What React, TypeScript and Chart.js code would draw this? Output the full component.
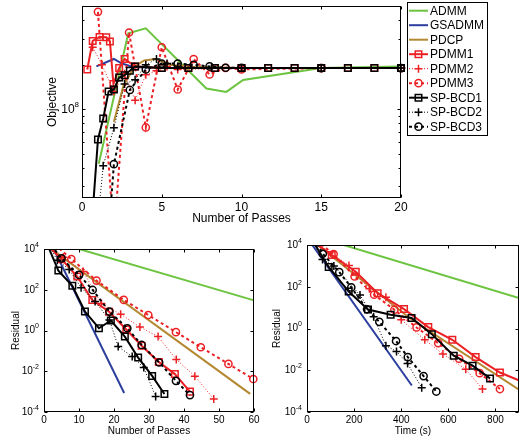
import React, { useEffect, useRef } from 'react';
import { Chart, registerables } from 'chart.js';

Chart.register(...registerables);

const FONT = "'Liberation Sans', Arial, Helvetica, sans-serif";
Chart.defaults.font.family = FONT;

const RED = 'rgb(236,32,36)';
const BLACK = '#000000';
const GREEN = 'rgb(108,196,64)';
const BLUE = 'rgb(44,62,158)';
const BROWN = 'rgb(180,136,48)';

const seriesNames = ['ADMM', 'GSADMM', 'PDCP', 'PDMM1', 'PDMM2', 'PDMM3', 'SP-BCD1', 'SP-BCD2', 'SP-BCD3'];

// ---------- Top: Objective vs Number of Passes ----------
const objAdmmX = [1.05, 2.9, 4.0, 7.8, 9.05, 10.1, 15, 20];
const objAdmmY = [4.27e7, 3.27e8, 3.53e8, 1.38e8, 1.31e8, 1.58e8, 1.905e8, 1.95e8];
const objGsadmmX = [0.9, 2.0, 2.5, 3.2, 5, 10, 20];
const objGsadmmY = [1.95e8, 2.19e8, 2.04e8, 1.93e8, 1.905e8, 1.9e8, 1.9e8];
const objPdcpX = [2.0, 2.6, 3.3, 3.9, 4.6, 5.5, 7, 10, 20];
const objPdcpY = [8.22e7, 1.445e8, 1.95e8, 2.14e8, 2.19e8, 2.0e8, 1.93e8, 1.905e8, 1.9e8];
const objPdmm1X = [0.33, 0.67, 1.1, 1.52, 1.75, 1.97, 2.33, 2.67, 3.33, 5, 6.67, 8.33, 10, 11.67, 13.33, 15, 16.67, 18.33, 20];
const objPdmm1Y = [1.86e8, 2.9e8, 3.09e8, 3.08e8, 2.88e8, 1.48e8, 1.905e8, 2.19e8, 1.95e8, 1.9e8, 1.9e8, 1.9e8, 1.9e8, 1.9e8, 1.9e8, 1.9e8, 1.9e8, 1.9e8, 1.9e8];
const objPdmm2X = [0.67, 1.25, 2.0, 2.67, 3.33, 4.0, 4.67, 5.33, 6.0, 10, 15, 20];
const objPdmm2Y = [2.63e8, 2.0e8, 1.32e8, 1.74e8, 1.15e8, 1.71e8, 1.82e8, 1.95e8, 1.86e8, 1.9e8, 1.9e8, 1.9e8];
const objPdmm3X = [1.0, 2.0, 2.95, 4.0, 5.0, 6.0, 7.0, 8.0, 9.0, 10, 15, 20];
const objPdmm3Y = [4.57e8, 1.35e7, 3.31e8, 7.52e7, 2.63e8, 1.36e8, 2.19e8, 1.72e8, 1.905e8, 1.86e8, 1.9e8, 1.9e8];
const objSpbcd1X = [0.67, 1.0, 1.33, 1.67, 2.0, 2.33, 2.67, 3.0, 3.33, 5, 6.67, 8.33, 10, 11.67, 13.33, 15, 16.67, 18.33, 20];
const objSpbcd1Y = [2.0e7, 6.24e7, 8.65e7, 1.32e8, 1.36e8, 1.64e8, 1.7e8, 1.82e8, 1.95e8, 1.9e8, 1.9e8, 1.9e8, 1.9e8, 1.9e8, 1.9e8, 1.9e8, 1.9e8, 1.9e8, 1.9e8];
const objSpbcd2X = [1.0, 1.33, 2.0, 2.67, 3.33, 4.0, 4.67, 5.33, 6.0, 10, 15, 20];
const objSpbcd2Y = [1.78e7, 4.14e7, 7.48e7, 1.48e8, 1.585e8, 2.0e8, 2.19e8, 2.04e8, 1.95e8, 1.9e8, 1.9e8, 1.9e8];
const objSpbcd3X = [1.7, 2.0, 3.0, 4.0, 5.0, 6.0, 7.0, 8.0, 9.0, 10, 15, 20];
const objSpbcd3Y = [1.585e7, 4.24e7, 1.35e8, 1.86e8, 2.04e8, 2.04e8, 2.0e8, 1.95e8, 1.91e8, 1.905e8, 1.9e8, 1.9e8];

// ---------- Bottom left: Residual vs Number of Passes ----------
const resPAdmmX = [0, 60];
const resPAdmmY = [3.19e4, 30.2];
const resPGsadmmX = [1.5, 22.9];
const resPGsadmmY = [2.8e4, 8.5e-4];
const resPPdcpX = [0, 58.9];
const resPPdcpY = [1.78e4, 7.76e-4];
const resPPdmm1X = [1, 5.0, 9.5, 13.8, 18.6, 23.5, 27.9, 32.8, 37.4, 41.7];
const resPPdmm1Y = [1.585e4, 3162, 447, 31.6, 8.32, 1.12, 0.178, 0.0282, 7.24e-3, 1.0e-3];
const resPPdmm2X = [1, 5.5, 11.2, 16.4, 21.9, 27.4, 32.6, 37.8, 43.1, 48.5];
const resPPdmm2Y = [2.0e4, 3981, 794, 20.9, 6.31, 1.48, 0.501, 0.038, 5.75e-3, 4.37e-4];
const resPPdmm3X = [0.5, 7.8, 15.0, 22.8, 29.8, 37.7, 44.8, 52.7, 59.8];
const resPPdmm3Y = [3.98e4, 3236, 282, 31.6, 5.75, 0.832, 0.151, 0.0229, 4.17e-3];
const resPSpbcd1X = [1, 4.1, 8.1, 11.7, 15.7, 19.1, 23.1, 26.9, 30.9, 34.4];
const resPSpbcd1Y = [1.585e4, 871, 155, 8.51, 1.29, 3.09, 0.501, 0.0468, 5.89e-3, 7.59e-4];
const resPSpbcd2X = [1, 3.8, 7.2, 10.6, 14.6, 18.7, 21.2, 25.2, 28.5, 31.9];
const resPSpbcd2Y = [2.0e4, 2818, 1000, 126, 26.3, 3.31, 0.162, 0.0525, 0.0151, 5.75e-4];
const resPSpbcd3X = [1, 5.0, 10.0, 13.9, 18.7, 23.8, 27.9, 32.9, 37.7, 41.7];
const resPSpbcd3Y = [2.51e4, 3467, 537, 97.7, 8.51, 1.29, 0.195, 0.0269, 3.39e-3, 6.76e-4];

// ---------- Bottom right: Residual vs Time (s) ----------
const resTAdmmX = [0, 900];
const resTAdmmY = [3.39e4, 28.8];
const resTGsadmmX = [0, 445];
const resTGsadmmY = [2.29e4, 1.86e-3];
const resTPdcpX = [0, 437, 900];
const resTPdcpY = [2.5e4, 3.09, 1.17e-3];
const resTPdmm1X = [40, 105, 207, 300, 412, 515, 617, 716, 819, 925];
const resTPdmm1Y = [1.12e4, 3311, 525, 49, 8.51, 1.175, 0.288, 0.0427, 7.76e-3, 2.51e-3];
const resTPdmm2X = [40, 178, 265, 335, 400, 500, 577, 674, 745];
const resTPdmm2Y = [1.26e4, 1047, 79.4, 31.6, 2.63, 0.288, 0.0603, 0.0112, 1.26e-3];
const resTPdmm3X = [40, 113, 202, 285, 371, 465, 557, 646, 733, 819];
const resTPdmm3Y = [1.585e4, 3715, 309, 41.7, 7.94, 1.122, 0.2, 0.0355, 7.24e-3, 1.26e-3];
const resTSpbcd1X = [30, 92, 177, 259, 355, 444, 530, 623, 703, 777];
const resTSpbcd1Y = [1.23e4, 891, 58.9, 8.13, 4.57, 3.16, 0.537, 0.0501, 0.0166, 4.07e-3];
const resTSpbcd2X = [30, 66, 114, 225, 283, 335, 380, 427, 487];
const resTSpbcd2Y = [1.585e4, 2042, 1000, 39.8, 3.63, 0.151, 0.0794, 0.0209, 1.45e-3];
const resTSpbcd3X = [30, 67, 137, 188, 255, 307, 378, 428, 495, 549];
const resTSpbcd3Y = [2.0e4, 3802, 501, 93.3, 8.32, 2.09, 0.251, 0.0427, 5.25e-3, 9.55e-4];

// Tick values / labels
const objXTicks = [0, 5, 10, 15, 20];
const objYMajor = [1e8];
const objYExp = ['8'];
const objYMinor = [3e7, 4e7, 5e7, 6e7, 7e7, 8e7, 9e7, 2e8, 3e8, 4e8];
const passXTicks = [0, 10, 20, 30, 40, 50, 60];
const timeXTicks = [0, 200, 400, 600, 800];
const resYMajor = [1e-4, 1e-2, 1, 1e2, 1e4];
const resYExp = ['-4', '-2', '0', '2', '4'];

type Marker = 'none' | 'rect' | 'cross' | 'circle';
type Style = { color: string; width: number; dash: number[]; marker: Marker };
const seriesStyles: Style[] = [
  { color: GREEN, width: 2, dash: [], marker: 'none' },
  { color: BLUE, width: 2, dash: [], marker: 'none' },
  { color: BROWN, width: 2, dash: [], marker: 'none' },
  { color: RED, width: 2, dash: [], marker: 'rect' },
  { color: RED, width: 1, dash: [1, 2], marker: 'cross' },
  { color: RED, width: 2, dash: [3, 3], marker: 'circle' },
  { color: BLACK, width: 2, dash: [], marker: 'rect' },
  { color: BLACK, width: 1, dash: [1, 2], marker: 'cross' },
  { color: BLACK, width: 2, dash: [3, 3], marker: 'circle' },
];

function markerRadius(m: Marker) {
  return m === 'rect' ? 4.6 : m === 'circle' ? 3.6 : m === 'cross' ? 4 : 0;
}

function drawMarker(ctx: CanvasRenderingContext2D, m: Marker, x: number, y: number, color: string) {
  const r = markerRadius(m);
  ctx.save();
  ctx.setLineDash([]);
  ctx.strokeStyle = color;
  ctx.lineWidth = 1.5;
  ctx.beginPath();
  if (m === 'rect') {
    const s = r * Math.SQRT2;
    ctx.rect(x - s / 2, y - s / 2, s, s);
  } else if (m === 'circle') {
    ctx.arc(x, y, r, 0, Math.PI * 2);
  } else if (m === 'cross') {
    ctx.moveTo(x - r, y); ctx.lineTo(x + r, y);
    ctx.moveTo(x, y - r); ctx.lineTo(x, y + r);
  }
  ctx.stroke();
  ctx.restore();
}

type Bounds = { xMin: number; xMax: number; yMin: number; yMax: number };

function buildDatasets(xs: number[][], ys: number[][], b: Bounds, clip: any) {
  return xs.map((xArr, i) => {
    const st = seriesStyles[i];
    const r = markerRadius(st.marker);
    return {
      label: seriesNames[i],
      data: xArr.map((x, j) => ({ x, y: ys[i][j] })),
      borderColor: st.color,
      backgroundColor: 'rgba(0,0,0,0)',
      borderWidth: st.width,
      borderDash: st.dash,
      tension: 0,
      fill: false,
      pointStyle: st.marker === 'none' ? 'circle' : st.marker,
      pointRadius: (c: any) => {
        const p = c.raw;
        if (!p || r === 0) return 0;
        return p.x < b.xMin || p.x > b.xMax || p.y < b.yMin || p.y > b.yMax ? 0 : r;
      },
      pointHoverRadius: 0,
      pointBorderColor: st.color,
      pointBackgroundColor: 'rgba(0,0,0,0)',
      pointBorderWidth: 1.5,
      clip,
      order: -i,
    };
  });
}

type Decor = {
  xTicks: number[];
  yMajor: number[];
  yExps: string[];
  yMinor: number[];
  font: number;
  sup: number;
  supRise: number;
  tick: number;
  minorTick: number;
  xGap: number;
  yGap: number;
  legend: boolean;
};

function drawLegend(ctx: CanvasRenderingContext2D) {
  const bx = 407, by = 2, bw = 80, bh = 133;
  ctx.save();
  ctx.fillStyle = '#ffffff';
  ctx.fillRect(bx, by, bw, bh);
  ctx.strokeStyle = '#000';
  ctx.lineWidth = 1;
  ctx.setLineDash([]);
  ctx.strokeRect(bx + 0.5, by + 0.5, bw, bh);
  seriesNames.forEach((name, i) => {
    const st = seriesStyles[i];
    const y = 10.7 + i * 14.5;
    ctx.strokeStyle = st.color;
    ctx.lineWidth = st.width;
    ctx.setLineDash(st.dash);
    ctx.beginPath();
    ctx.moveTo(409, y);
    ctx.lineTo(428, y);
    ctx.stroke();
    ctx.setLineDash([]);
    if (st.marker !== 'none') drawMarker(ctx, st.marker, 418.5, y, st.color);
    ctx.fillStyle = '#000';
    ctx.font = `12px ${FONT}`;
    ctx.textAlign = 'left';
    ctx.textBaseline = 'middle';
    ctx.fillText(name, 430, y + 0.5);
  });
  ctx.restore();
}

function decorPlugin(d: Decor) {
  return {
    id: 'decor',
    afterDraw(chart: any) {
      const { ctx, chartArea: a, scales } = chart;
      const xs = scales.x, ys = scales.y;
      ctx.save();
      ctx.setLineDash([]);
      ctx.strokeStyle = '#000';
      ctx.fillStyle = '#000';
      ctx.lineWidth = 1;
      const L = Math.round(a.left) + 0.5, R = Math.round(a.right) - 0.5;
      const T = Math.round(a.top) + 0.5, B = Math.round(a.bottom) - 0.5;
      ctx.strokeRect(L, T, R - L, B - T);
      ctx.beginPath();
      d.xTicks.forEach((v) => {
        const px = Math.round(xs.getPixelForValue(v)) + 0.5;
        ctx.moveTo(px, B); ctx.lineTo(px, B - d.tick);
        ctx.moveTo(px, T); ctx.lineTo(px, T + d.tick);
      });
      d.yMajor.forEach((v) => {
        const py = Math.round(ys.getPixelForValue(v)) + 0.5;
        ctx.moveTo(L, py); ctx.lineTo(L + d.tick, py);
        ctx.moveTo(R, py); ctx.lineTo(R - d.tick, py);
      });
      d.yMinor.forEach((v) => {
        const py = Math.round(ys.getPixelForValue(v)) + 0.5;
        ctx.moveTo(L, py); ctx.lineTo(L + d.minorTick, py);
        ctx.moveTo(R, py); ctx.lineTo(R - d.minorTick, py);
      });
      ctx.stroke();
      const baseFont = `${d.font}px ${FONT}`;
      const supFont = `${d.sup}px ${FONT}`;
      ctx.font = baseFont;
      ctx.textAlign = 'center';
      ctx.textBaseline = 'top';
      d.xTicks.forEach((v) => {
        ctx.fillText(String(v), xs.getPixelForValue(v), a.bottom + d.xGap);
      });
      d.yMajor.forEach((v, i) => {
        const py = ys.getPixelForValue(v);
        ctx.font = supFont;
        const ew = ctx.measureText(d.yExps[i]).width;
        ctx.font = baseFont;
        const bw = ctx.measureText('10').width;
        const xr = a.left - d.yGap;
        ctx.textAlign = 'left';
        ctx.textBaseline = 'middle';
        ctx.fillText('10', xr - ew - bw, py);
        ctx.font = supFont;
        ctx.fillText(d.yExps[i], xr - ew, py - d.supRise);
      });
      ctx.restore();
      if (d.legend) drawLegend(ctx);
    },
  };
}

type Frame = {
  padding: { left: number; right: number; top: number; bottom: number };
  yWidth: number;
  xHeight: number;
  titleSize: number;
  xTitle: string;
  yTitle: string;
  xTitlePad: number;
  yTitlePad: number;
};

function buildConfig(datasets: any[], b: Bounds, f: Frame, decor: Decor) {
  return {
    type: 'line',
    data: { datasets },
    options: {
      responsive: false,
      maintainAspectRatio: false,
      animation: false,
      devicePixelRatio: 1,
      events: [],
      layout: { padding: f.padding },
      plugins: { legend: { display: false }, tooltip: { enabled: false }, title: { display: false } },
      scales: {
        x: {
          type: 'linear',
          min: b.xMin,
          max: b.xMax,
          grid: { display: false },
          border: { display: false },
          ticks: { display: false },
          title: {
            display: true,
            text: f.xTitle,
            color: '#000',
            font: { size: f.titleSize, family: FONT },
            padding: { top: 0, bottom: f.xTitlePad },
          },
          afterFit: (s: any) => { s.height = f.xHeight; },
        },
        y: {
          type: 'logarithmic',
          min: b.yMin,
          max: b.yMax,
          grid: { display: false },
          border: { display: false },
          ticks: { display: false },
          title: {
            display: true,
            text: f.yTitle,
            color: '#000',
            font: { size: f.titleSize, family: FONT },
            padding: { top: f.yTitlePad, bottom: 0 },
          },
          afterFit: (s: any) => { s.width = f.yWidth; },
        },
      },
    },
    plugins: [decorPlugin(decor)],
  } as any;
}

function makeTop() {
  const b = { xMin: 0, xMax: 20, yMin: 2.5e7, yMax: 5e8 };
  const xs = [objAdmmX, objGsadmmX, objPdcpX, objPdmm1X, objPdmm2X, objPdmm3X, objSpbcd1X, objSpbcd2X, objSpbcd3X];
  const ys = [objAdmmY, objGsadmmY, objPdcpY, objPdmm1Y, objPdmm2Y, objPdmm3Y, objSpbcd1Y, objSpbcd2Y, objSpbcd3Y];
  const ds = buildDatasets(xs, ys, b, { left: 6, right: 6, top: 0, bottom: 0 });
  return buildConfig(
    ds,
    b,
    {
      padding: { left: 0, right: 125, top: 2, bottom: 0 },
      yWidth: 82,
      xHeight: 30,
      titleSize: 12,
      xTitle: 'Number of Passes',
      yTitle: 'Objective',
      xTitlePad: 1.8,
      yTitlePad: 45.8,
    },
    { xTicks: objXTicks, yMajor: objYMajor, yExps: objYExp, yMinor: objYMinor, font: 12, sup: 8, supRise: 4, tick: 3, minorTick: 2, xGap: 4, yGap: 3, legend: true }
  );
}

function makeBL() {
  const b = { xMin: 0, xMax: 60, yMin: 1e-4, yMax: 1e4 };
  const xs = [resPAdmmX, resPGsadmmX, resPPdcpX, resPPdmm1X, resPPdmm2X, resPPdmm3X, resPSpbcd1X, resPSpbcd2X, resPSpbcd3X];
  const ys = [resPAdmmY, resPGsadmmY, resPPdcpY, resPPdmm1Y, resPPdmm2Y, resPPdmm3Y, resPSpbcd1Y, resPSpbcd2Y, resPSpbcd3Y];
  const ds = buildDatasets(xs, ys, b, { left: 6, right: 6, top: 0, bottom: 0 });
  return buildConfig(
    ds,
    b,
    {
      padding: { left: 0, right: 9, top: 21, bottom: 0 },
      yWidth: 44,
      xHeight: 29,
      titleSize: 10,
      xTitle: 'Number of Passes',
      yTitle: 'Residual',
      xTitlePad: 4,
      yTitlePad: 10.5,
    },
    { xTicks: passXTicks, yMajor: resYMajor, yExps: resYExp, yMinor: [], font: 10, sup: 7, supRise: 4, tick: 3, minorTick: 2, xGap: 3, yGap: 5, legend: false }
  );
}

function makeBR() {
  const b = { xMin: 0, xMax: 900, yMin: 1e-4, yMax: 1e4 };
  const xs = [resTAdmmX, resTGsadmmX, resTPdcpX, resTPdmm1X, resTPdmm2X, resTPdmm3X, resTSpbcd1X, resTSpbcd2X, resTSpbcd3X];
  const ys = [resTAdmmY, resTGsadmmY, resTPdcpY, resTPdmm1Y, resTPdmm2Y, resTPdmm3Y, resTSpbcd1Y, resTSpbcd2Y, resTSpbcd3Y];
  const ds = buildDatasets(xs, ys, b, { left: 6, right: 0, top: 0, bottom: 0 });
  return buildConfig(
    ds,
    b,
    {
      padding: { left: 0, right: 7, top: 17, bottom: 0 },
      yWidth: 44,
      xHeight: 29,
      titleSize: 10,
      xTitle: 'Time (s)',
      yTitle: 'Residual',
      xTitlePad: 4,
      yTitlePad: 8.5,
    },
    { xTicks: timeXTicks, yMajor: resYMajor, yExps: resYExp, yMinor: [], font: 10, sup: 7, supRise: 4, tick: 3, minorTick: 2, xGap: 3, yGap: 5, legend: false }
  );
}

function ChartCanvas(props: { left: number; top: number; width: number; height: number; make: () => any }) {
  const ref = useRef<HTMLCanvasElement | null>(null);
  useEffect(() => {
    if (!ref.current) return;
    const chart = new Chart(ref.current, props.make());
    return () => chart.destroy();
  }, []);
  return (
    <canvas
      ref={ref}
      width={props.width}
      height={props.height}
      style={{ position: 'absolute', left: props.left, top: props.top, width: props.width, height: props.height, display: 'block' }}
    />
  );
}

export default function App() {
  return (
    <div style={{ position: 'absolute', left: 0, top: 0, width: 526, height: 441, background: '#ffffff', overflow: 'hidden' }}>
      <ChartCanvas left={0} top={0} width={526} height={228} make={makeTop} />
      <ChartCanvas left={0} top={228} width={263} height={213} make={makeBL} />
      <ChartCanvas left={263} top={228} width={263} height={213} make={makeBR} />
    </div>
  );
}
